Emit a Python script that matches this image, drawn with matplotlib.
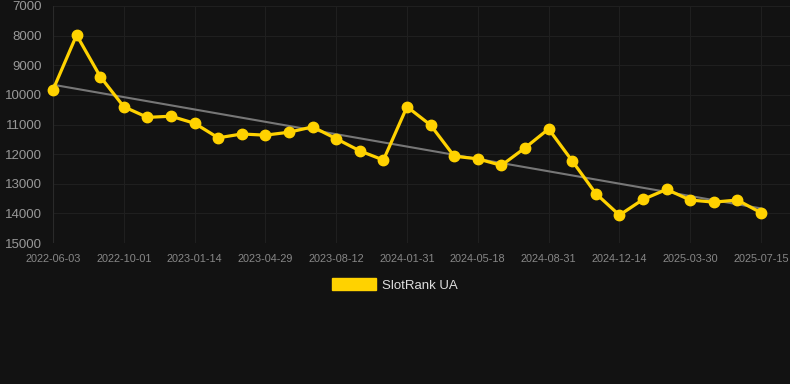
# SlotRank UA rank over time, dark theme line chart with linear trend

import matplotlib
matplotlib.use("agg")
import matplotlib.pyplot as plt
import matplotlib.patches as mpatches
import numpy as np

tick_labels = ["2022-06-03", "2022-10-01", "2023-01-14", "2023-04-29", "2023-08-12",
               "2024-01-31", "2024-05-18", "2024-08-31", "2024-12-14", "2025-03-30",
               "2025-07-15"]

rank = [9830, 7980, 9380, 10400, 10760, 10720, 10960, 11450, 11320, 11360,
        11260, 11080, 11480, 11890, 12200, 10400, 11020, 12070, 12160, 12380,
        11790, 11150, 12230, 13330, 14060, 13530, 13190, 13550, 13620, 13550,
        13980]

series_name = "SlotRank UA"

bg = "#121212"
yellow = "#FFD200"

plt.rcParams["font.family"] = ["Liberation Sans", "DejaVu Sans"]


def main():
    fig = plt.figure(figsize=(7.9, 3.84), dpi=100, facecolor=bg)
    ax = fig.add_axes([53 / 790, 1 - 243 / 384, (790 - 53) / 790, (243 - 6) / 384])
    ax.set_facecolor(bg)

    x = np.arange(len(rank))
    step = 761 - 53
    ax.set_xlim(0, (len(rank) - 1) * (790 - 53) / step)
    ax.set_ylim(15000, 7000)

    # linear trend
    k, b = np.polyfit(x, rank, 1)
    ax.plot(x, k * x + b, color="#777777", linewidth=1.5, zorder=2)

    ax.plot(x, rank, color=yellow, linewidth=2.3, marker="o", markersize=7.5,
            zorder=3, clip_on=False)

    ax.set_yticks(range(7000, 15001, 1000))
    ax.set_xticks(x[::3])
    ax.set_xticklabels(tick_labels)
    ax.tick_params(axis="x", colors="#2a2a2a", labelcolor="#888888",
                   labelsize=7.8, length=0, pad=8)
    ax.tick_params(axis="y", colors="#2a2a2a", labelcolor="#999999",
                   labelsize=9.5, length=0, pad=8)
    ax.grid(True, color="#1f1f1f", linewidth=0.8)
    ax.set_axisbelow(True)
    for s in ax.spines.values():
        s.set_visible(False)
    ax.axvline(0, color="#2a2a2a", linewidth=0.8, zorder=1)

    handle = mpatches.Patch(color=yellow, label=series_name)
    leg = fig.legend(handles=[handle], loc="center", bbox_to_anchor=(395 / 790, 1 - 285 / 384),
                     frameon=False, fontsize=9.5, handlelength=3.3, handleheight=1.0,
                     handletextpad=0.5)
    for t in leg.get_texts():
        t.set_color("#dddddd")

    fig.savefig("out.png", dpi=100, facecolor=bg)


if __name__ == "__main__":
    main()
